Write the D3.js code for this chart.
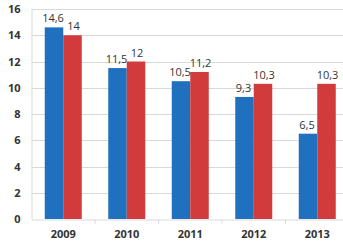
<!DOCTYPE html>
<html><head><meta charset="utf-8">
<script src="https://cdn.jsdelivr.net/npm/d3@7"></script>
<style>body{margin:0;background:#fff;overflow:hidden}</style>
</head><body>
<svg id="c" width="343" height="245"></svg>
<script>
const categories = ["2009","2010","2011","2012","2013"];
const seriesA = [14.6, 11.5, 10.5, 9.3, 6.5];
const seriesB = [14, 12, 11.2, 10.3, 10.3];
const labelsA = ["14,6","11,5","10,5","9,3","6,5"];
const labelsB = ["14","12","11,2","10,3","10,3"];
const yTicks = [0,2,4,6,8,10,12,14,16];

(function(){
const svg = d3.select("#c");
const mLeft = 31.5, mRight = 349, mTop = 9, mBottom = 219;
const x = d3.scaleBand().domain(categories).range([mLeft, mRight]);
const y = d3.scaleLinear().domain([0,16]).range([mBottom, mTop]);
const bw = 18.5;
const font = "'Open Sans', sans-serif";

svg.append("g").selectAll("line").data(yTicks.filter(d=>d>0)).join("line")
  .attr("x1", mLeft).attr("x2", 343).attr("y1", d=>Math.round(y(d))+0.5).attr("y2", d=>Math.round(y(d))+0.5)
  .attr("stroke", "#d9d9d9").attr("stroke-width", 1);

const ya = d3.axisLeft(y).tickValues(yTicks).tickSize(0).tickPadding(11);
const yg = svg.append("g").attr("transform", `translate(${mLeft},0)`).call(ya);
yg.select(".domain").attr("stroke", "#d9d9d9");
yg.selectAll("text").attr("font-family", font).attr("font-weight", "bold").attr("font-size", 11).attr("fill", "#333");

const xa = d3.axisBottom(x).tickSize(0).tickPadding(11);
const xg = svg.append("g").attr("transform", `translate(0,${mBottom+0.5})`).call(xa);
xg.select(".domain").attr("stroke", "#d9d9d9");
xg.selectAll("text").attr("font-family", font).attr("font-weight", "bold").attr("font-size", 11).attr("fill", "#333");
xg.append("g").selectAll("line").data(categories.slice(1)).join("line")
  .attr("x1", d=>x(d)).attr("x2", d=>x(d)).attr("y1", 0).attr("y2", 4).attr("stroke", "#d9d9d9");

const cx = d => x(d) + x.bandwidth()/2;

svg.append("g").selectAll("rect").data(categories).join("rect")
  .attr("x", d => cx(d) - bw).attr("width", bw)
  .attr("y", (d,i) => y(seriesA[i])).attr("height", (d,i) => mBottom - y(seriesA[i]))
  .attr("fill", "#1f70bf");
svg.append("g").selectAll("rect").data(categories).join("rect")
  .attr("x", d => cx(d)).attr("width", bw)
  .attr("y", (d,i) => y(seriesB[i])).attr("height", (d,i) => mBottom - y(seriesB[i]))
  .attr("fill", "#d13b3b");

svg.append("g").selectAll("text").data(categories).join("text")
  .attr("x", d => cx(d) - bw/2 - 1).attr("y", (d,i) => y(seriesA[i]) - 5)
  .attr("text-anchor", "middle").attr("font-family", font).attr("font-size", 11)
  .attr("fill", "#333").text((d,i) => labelsA[i]);
svg.append("g").selectAll("text").data(categories).join("text")
  .attr("x", d => cx(d) + bw/2 + 1).attr("y", (d,i) => y(seriesB[i]) - 5)
  .attr("text-anchor", "middle").attr("font-family", font).attr("font-size", 11)
  .attr("fill", "#333").text((d,i) => labelsB[i]);
})();
</script>
</body></html>
